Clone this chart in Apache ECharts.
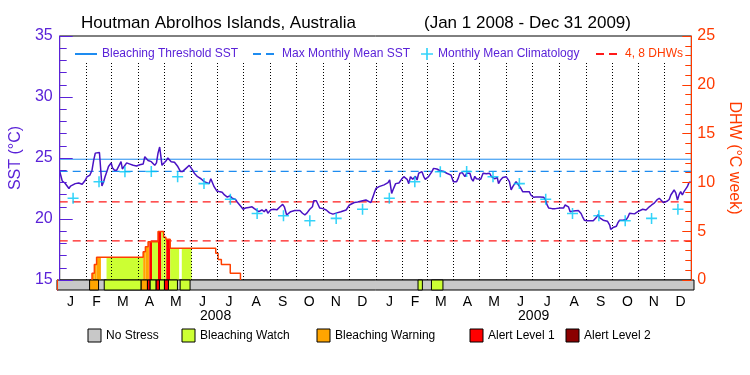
<!DOCTYPE html>
<html><head><meta charset="utf-8">
<script src="https://cdn.jsdelivr.net/npm/echarts@6/dist/echarts.min.js"></script>
<style>html,body{margin:0;padding:0;background:#fff}#c{width:750px;height:375px}</style>
</head><body><div id="c"></div>
<script>
const TITLE = 'Houtman Abrolhos Islands, Australia';
const PERIOD = '(Jan 1 2008 - Dec 31 2009)';
const totalDays = 731;
const monthLetters = ['J','F','M','A','M','J','J','A','S','O','N','D','J','F','M','A','M','J','J','A','S','O','N','D'];
const monthStarts = [0,31,60,91,121,152,182,213,244,274,305,335,366,397,425,456,486,517,547,578,609,639,670,700,731];
const yearLabels = ['2008','2009'];
const climatology = [21.7,23.06,23.88,23.9,23.47,22.9,21.62,20.45,20.27,19.86,20.05,20.8];
const mmmSST = 23.9;
const thresholdSST = 24.9;
const dhwLevels = [4, 8];
const sst = [[0,23.9],[1.5,23.5],[3,23.1],[4.5,23.1],[6,22.95],[8,22.8],[10.7,22.5],[12.5,22.7],[14,22.8],[18,22.9],[22,22.95],[26,22.85],[29.8,23.2],[31.5,23.45],[35,23.6],[37.4,24.0],[39.3,24.8],[41.2,25.4],[42.5,25.5],[46,25.45],[48.1,25.3],[48.9,22.7],[50.8,23.06],[52.7,23.5],[54.6,23.9],[56.5,24.3],[59.6,24.6],[61,24.2],[63.4,24.0],[66,24.0],[68.8,24.4],[71,24.7],[72.5,24.1],[74.8,24.2],[77.5,24.6],[81.3,24.5],[85.1,24.4],[88.9,24.35],[92.7,24.45],[96.6,24.5],[98.5,25.1],[100.4,24.95],[102.3,24.8],[106,24.7],[110,24.4],[112,24.6],[113.8,25.4],[115.7,25.9],[116.8,25.3],[118.4,24.4],[120.7,24.4],[123.4,24.8],[125.2,25.0],[129,24.7],[132.8,24.65],[136.7,24.3],[139.7,23.9],[142.4,23.9],[146.2,24.15],[150,24.4],[151.9,24.35],[153.8,24.0],[155.8,23.75],[159.6,23.47],[163.5,23.3],[167.3,23.06],[173,22.9],[174.9,23.3],[176.8,23.15],[178.7,22.65],[181.8,22.3],[184.4,22.25],
[188,22.2],[190.7,21.97],[194,21.8],[197,21.9],[199.7,21.7],[201.6,21.56],[203.5,21.6],[205.4,21.4],[207.3,21.3],[210,21.0],[212.3,20.8],[215,20.9],[218.8,20.95],[222.6,21.0],[225.3,20.85],[227.6,20.7],[230.3,20.6],[234,20.74],[236.7,20.6],[239,20.8],[240.9,20.47],[242.9,20.33],[244.4,20.75],[247.5,20.8],[251.3,20.75],[253.1,20.8],[255,21.0],[258.1,21.2],[260,21.0],[262.7,20.33],[264.6,20.45],[267.3,20.6],[272,20.7],[278,20.7],[281,20.47],[283.7,20.33],[286.3,20.5],[289.4,20.8],[292.5,21.0],[294,21.5],[297,21.5],[299,21.45],[300.9,20.9],[304.7,20.85],[308.5,20.74],[312.3,20.5],[316.2,20.4],[320.8,20.5],[325.4,20.6],[327.7,20.74],[331.5,20.74],[333.4,20.8],[335.3,21.15],[337.2,21.3],[341,21.35],[344.9,21.4],[346.8,21.56],[350.6,21.5],[354.4,21.56],[356.3,21.45],[360.1,21.34],[362,21.4],[363.9,22.1],
[366,22.5],[369.6,22.65],[375.4,22.8],[377.3,22.7],[380,22.98],[381.9,23.2],[384.2,22.1],[385.8,22.4],[388.8,22.9],[390.7,22.85],[392.6,22.95],[395.6,23.25],[398.3,23.47],[400.2,23.5],[402.1,23.25],[404,22.9],[406,23.47],[408.6,23.25],[411.7,23.5],[413.6,23.2],[415.5,23.75],[417.4,23.88],[419.3,23.88],[421.2,23.5],[423.1,23.25],[426.9,23.47],[428.9,23.5],[430.8,23.88],[432.7,24.15],[434.6,24.24],[436.5,24.1],[440.3,23.96],[444.1,23.9],[448,23.75],[449.9,23.9],[452.9,23.6],[455.6,23.06],[457.5,23.2],[459.4,23.06],[461.3,23.35],[463.2,23.75],[465.9,23.8],[469,23.47],[470.9,23.75],[472.8,23.88],[474.7,23.75],[476.6,23.3],[478.5,23.1],[480.4,23.5],[482.3,23.3],[484.2,23.2],[487.3,23.25],[488.8,23.4],[490,23.75],[493.8,23.7],[497.6,23.75],[499.5,23.5],[501.4,23.6],[503.3,23.3],[506.4,23.4],[507.9,22.9],[510.2,23.2],[512.8,23.4],[516.7,23.47],[518.6,23.47],[520.5,23.06],[522.5,22.38],[524.4,22.65],[528.2,23.06],[530.1,22.98],[533.9,22.5],[535.8,22.24],[539.6,22.24],[543.4,22.24],[545.3,21.97],[548.4,21.78],
[551,21.8],[556,21.8],[560.3,21.78],[562.2,21.56],[564.1,21.15],[566,20.9],[569.8,20.85],[573.6,20.85],[579.3,20.9],[583.1,20.9],[585,21.15],[586.9,21.2],[588.8,21.0],[590.8,20.6],[592.7,20.45],[594.6,20.65],[596.5,20.74],[600.3,20.7],[603.4,20.45],[605,20.2],[607.2,19.9],[609.9,19.85],[613.7,19.85],[617.5,19.85],[619.4,19.82],[621.3,20.15],[623.2,20.35],[625.1,20.1],[627.1,20.05],[629,19.9],[630.9,19.75],[633.9,19.82],[636.6,19.5],[637.7,19.15],[640.4,19.3],[644.3,19.4],[646.1,19.7],[648,19.9],[651.9,19.9],[653.8,20.05],[655.7,19.95],[657.6,20.15],[659.5,20.47],[661.4,20.47],[665.3,20.42],[667.2,20.47],[669.1,20.6],[671,20.74],[674.8,20.8],[678.6,20.74],[680.5,20.8],[682.4,21.0],[685.1,21.15],[688.1,21.3],[691.2,21.56],[693.9,21.7],[695.8,21.56],[698.9,21.34],[700.4,21.23],[702.7,21.45],[705.4,21.6],[707.3,21.97],[709.2,21.97],[711.1,22.38],[713,22.15],[715,21.56],[716.9,22.0],[718.7,22.24],[720.6,21.97],[722.5,22.24],[724.5,22.1],[726.4,22.65],[728.3,22.98],[730.2,23.06]];
const dhw = [[37.4,0],[37.4,0.69],[40.1,1.6],[42.7,2.33],[96.6,2.9],[99.2,3.4],[102.3,3.93],[113.8,4.96],[120.3,4.38],[122.9,4.17],[127.9,3.25],[180.6,2.74],[183.3,2.1],[187.1,1.6],[197.4,0.69],[209.2,0]];
// [startDay, endDay, DHW height, stress level]
const dhwBars = [[37.4,40.1,0.69,2],[40.1,42.7,1.6,2],[42.7,47.7,2.33,2],[54.2,96.6,2.33,1],[96.6,99.2,2.9,2],[99.2,102.3,3.4,2],[102.3,103.8,3.93,2],[103.8,106.9,3.93,3],[106.9,113.8,3.93,1],[113.8,117.6,4.96,3],[117.6,120.3,4.96,1],[120.3,122.9,4.38,1],[122.9,123.3,4.17,1],[123.3,127.9,4.17,3],[127.9,138.2,3.25,1],[141.3,152.7,3.25,1]];
// [startDay, endDay, stress level]
const stressBand = [[0,731,0],[37.4,47.7,2],[54.2,96.6,1],[96.6,103.8,2],[103.8,106.9,3],[106.9,113.8,1],[113.8,117.6,3],[117.6,123.3,1],[123.3,127.9,3],[127.9,138.2,1],[141.3,152.7,1],[414.3,419.3,1],[429.7,442.9,1]];
const stressNames = ['No Stress','Bleaching Watch','Bleaching Warning','Alert Level 1','Alert Level 2'];
const stressColors = ['#c8c8c8','#ccff33','#ffa500','#ff0000','#8b0000'];

const PURPLE = '#5a22d8', ORANGE = '#ff3a00', BLUE = '#1e8cf0', FONT = 'Liberation Sans';
const mids = monthStarts.slice(0, -1).map((s, i) => (s + monthStarts[i + 1]) / 2);
const climData = mids.map((d, i) => [d, climatology[i % 12]]);
const yearMids = [monthStarts[6], monthStarts[18]];
const nearestIdx = (arr, v) => { let b = 0; arr.forEach((a, i) => { if (Math.abs(a - v) < Math.abs(arr[b] - v)) b = i; }); return b; };
const monthLines = monthStarts.slice(1, -1).map(d => [{coord: [d, 15]}, {coord: [d, 32.8]}]);
const CROSS = 'path://M4.3,0H5.7V4.3H10V5.7H5.7V10H4.3V5.7H0V4.3H4.3Z';

const chart = echarts.init(document.getElementById('c'), null, {renderer: 'canvas'});
const legendBase = {top: 43, itemHeight: 12, textStyle: {fontSize: 12, fontFamily: FONT}, selectedMode: false};
const noSym = {itemStyle: {opacity: 0, color: 'transparent', borderWidth: 0}};
const bottomLegendX = [88, 182, 317, 470, 566];
const graphics = [];
stressNames.forEach((n, i) => {
  graphics.push({type: 'rect', x: bottomLegendX[i], y: 329, shape: {width: 13, height: 13}, style: {fill: stressColors[i], stroke: '#000', lineWidth: 1}});
  graphics.push({type: 'text', x: bottomLegendX[i] + 18, y: 336, style: {text: n, fill: '#000', font: '12px ' + FONT, verticalAlign: 'middle', align: 'left'}});
});

chart.setOption({
  animation: false,
  backgroundColor: '#fff',
  title: [
    {text: TITLE, left: 76, top: 10, textStyle: {fontSize: 17, fontWeight: 'normal', color: '#000', fontFamily: FONT}},
    {text: PERIOD, left: 419, top: 10, textStyle: {fontSize: 17, fontWeight: 'normal', color: '#000', fontFamily: FONT}}
  ],
  legend: [
    Object.assign({}, legendBase, noSym, {left: 69, itemWidth: 22, data: [{name: 'Bleaching Threshold SST', textStyle: {color: PURPLE}}]}),
    Object.assign({}, legendBase, noSym, {left: 247, itemWidth: 24, data: [{name: 'Max Monthly Mean SST', textStyle: {color: PURPLE}}]}),
    Object.assign({}, legendBase, {left: 416, itemWidth: 12, data: [{name: 'Monthly Mean Climatology', textStyle: {color: PURPLE}}]}),
    Object.assign({}, legendBase, noSym, {left: 590, itemWidth: 24, data: [{name: '4, 8 DHWs', textStyle: {color: ORANGE}}]})
  ],
  grid: [
    {left: 57, right: 56, top: 36, height: 244, show: true, borderColor: '#000', borderWidth: 1, backgroundColor: 'transparent'},
    {left: 57, right: 56, top: 280, height: 10}
  ],
  xAxis: [
    {gridIndex: 0, type: 'value', min: 0, max: totalDays, show: false},
    {gridIndex: 1, type: 'value', min: 0, max: totalDays, axisLine: {show: false}, axisTick: {show: false}, splitLine: {show: false},
     axisLabel: {customValues: mids, formatter: v => monthLetters[nearestIdx(mids, v)], color: '#000', fontSize: 14, fontFamily: FONT, margin: 5}},
    {gridIndex: 1, type: 'value', min: 0, max: totalDays, position: 'bottom', offset: 14, axisLine: {show: false}, axisTick: {show: false}, splitLine: {show: false},
     axisLabel: {customValues: yearMids, formatter: v => yearLabels[nearestIdx(yearMids, v)], color: '#000', fontSize: 14, fontFamily: FONT, margin: 5}}
  ],
  yAxis: [
    {gridIndex: 0, type: 'value', min: 15, max: 35, interval: 5, position: 'left', z: 6,
     name: 'SST (°C)', nameLocation: 'middle', nameRotate: 90, nameGap: 30, nameTextStyle: {color: PURPLE, fontSize: 16, fontFamily: FONT},
     axisLine: {show: true, lineStyle: {color: PURPLE, width: 1}},
     axisTick: {show: true, inside: true, length: 13, lineStyle: {color: PURPLE, width: 1}},
     minorTick: {show: true, splitNumber: 5, length: 7, lineStyle: {color: PURPLE, width: 1}},
     axisLabel: {color: PURPLE, fontSize: 16, fontFamily: FONT, margin: 7}, splitLine: {show: false}},
    {gridIndex: 0, type: 'value', min: 0, max: 25, interval: 5, position: 'right', z: 6,
     name: 'DHW (°C week)', nameLocation: 'middle', nameRotate: -90, nameGap: 24, nameTextStyle: {color: ORANGE, fontSize: 16, fontFamily: FONT},
     axisLine: {show: true, lineStyle: {color: ORANGE, width: 1}},
     axisTick: {show: true, inside: true, length: 9, lineStyle: {color: ORANGE, width: 1}},
     minorTick: {show: true, splitNumber: 5, length: 6, lineStyle: {color: ORANGE, width: 1}},
     axisLabel: {color: ORANGE, fontSize: 16, fontFamily: FONT, margin: 6}, splitLine: {show: false}},
    {gridIndex: 1, type: 'value', min: 0, max: 1, position: 'left', z: 6, axisLine: {show: true, lineStyle: {color: PURPLE}}, axisTick: {show: false}, axisLabel: {show: false}, splitLine: {show: false}},
    {gridIndex: 1, type: 'value', min: 0, max: 1, position: 'right', z: 6, axisLine: {show: true, lineStyle: {color: ORANGE}}, axisTick: {show: false}, axisLabel: {show: false}, splitLine: {show: false}}
  ],
  series: [
    {name: 'Bleaching Threshold SST', type: 'line', xAxisIndex: 0, yAxisIndex: 0, z: 2, silent: true, symbol: 'none',
     data: [[0, thresholdSST], [totalDays, thresholdSST]], lineStyle: {color: BLUE, width: 1}, itemStyle: {color: BLUE},
     markLine: {silent: true, symbol: 'none', label: {show: false}, lineStyle: {color: '#000', type: [1, 2], width: 1}, data: monthLines}},
    {name: 'Max Monthly Mean SST', type: 'line', xAxisIndex: 0, yAxisIndex: 0, z: 2, silent: true, symbol: 'none',
     data: [[0, mmmSST], [totalDays, mmmSST]], lineStyle: {color: BLUE, width: 1.2, type: [8, 5]}, itemStyle: {color: BLUE}},
    {name: '4, 8 DHWs', type: 'line', xAxisIndex: 0, yAxisIndex: 1, z: 2, silent: true, symbol: 'none',
     data: [[0, dhwLevels[0]], [totalDays, dhwLevels[0]]], lineStyle: {color: '#ff1a1a', width: 1.2, type: [8, 5]}, itemStyle: {color: '#ff1a1a'}},
    {name: '4, 8 DHWs', type: 'line', xAxisIndex: 0, yAxisIndex: 1, z: 2, silent: true, symbol: 'none',
     data: [[0, dhwLevels[1]], [totalDays, dhwLevels[1]]], lineStyle: {color: '#ff1a1a', width: 1.2, type: [8, 5]}, itemStyle: {color: '#ff1a1a'}},
    {name: 'DHW bars', type: 'custom', xAxisIndex: 0, yAxisIndex: 1, z: 3, silent: true, data: dhwBars,
     renderItem: (params, api) => {
       const a = api.coord([api.value(0), api.value(2)]);
       const b = api.coord([api.value(1), 0]);
       return {type: 'rect', shape: {x: a[0], y: a[1], width: b[0] - a[0], height: b[1] - a[1]}, style: {fill: stressColors[api.value(3)]}};
     }},
    {name: 'DHW', type: 'line', xAxisIndex: 0, yAxisIndex: 1, z: 4, silent: true, symbol: 'none', step: 'end',
     data: dhw, lineStyle: {color: '#ff4000', width: 1.5}},
    {name: 'SST', type: 'line', xAxisIndex: 0, yAxisIndex: 0, z: 5, silent: true, symbol: 'none',
     data: sst, lineStyle: {color: '#4a12c4', width: 1.5}},
    {name: 'Monthly Mean Climatology', type: 'scatter', xAxisIndex: 0, yAxisIndex: 0, z: 6, silent: true,
     symbol: CROSS, symbolSize: 11, data: climData, itemStyle: {color: '#00c8f8'}},
    {name: 'Stress', type: 'custom', xAxisIndex: 1, yAxisIndex: 2, z: 3, silent: true, data: stressBand,
     renderItem: (params, api) => {
       const a = api.coord([api.value(0), 1]);
       const b = api.coord([api.value(1), 0]);
       return {type: 'rect', shape: {x: a[0], y: a[1], width: b[0] - a[0], height: b[1] - a[1]}, style: {fill: stressColors[api.value(2)], stroke: '#000', lineWidth: 1}};
     }}
  ],
  graphic: graphics
});
</script></body></html>
